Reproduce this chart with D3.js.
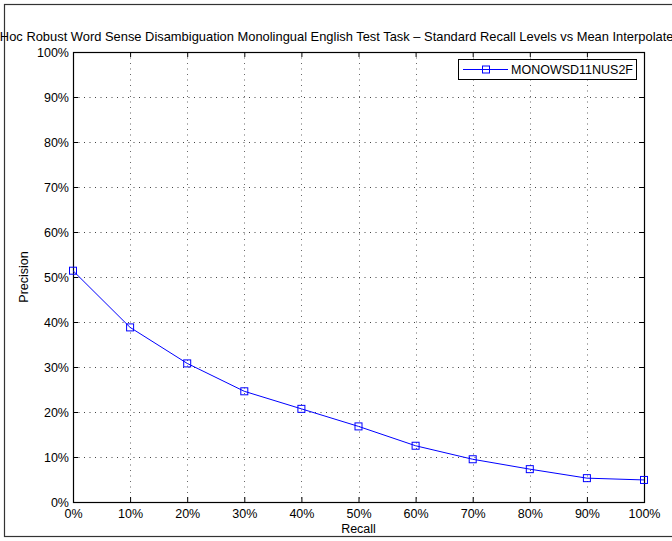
<!DOCTYPE html>
<html><head><meta charset="utf-8">
<script src="https://cdn.jsdelivr.net/npm/d3@7"></script>
<style>body{margin:0;background:#fff}svg{display:block}text{font-family:"Liberation Sans",Arial,sans-serif;fill:#000}</style>
</head><body>
<svg id="c" width="672" height="541"></svg>
<script>
const recall = [0,0.1,0.2,0.3,0.4,0.5,0.6,0.7,0.8,0.9,1.0];
const precision = [0.514,0.388,0.308,0.246,0.207,0.168,0.125,0.095,0.073,0.053,0.049];
const xTicks = [0,0.1,0.2,0.3,0.4,0.5,0.6,0.7,0.8,0.9,1.0];
const yTicks = [0,0.1,0.2,0.3,0.4,0.5,0.6,0.7,0.8,0.9,1.0];
const seriesName = "MONOWSD11NUS2F";
const title = "Ad-Hoc Robust Word Sense Disambiguation Monolingual English Test Task \u2013 Standard Recall Levels vs Mean Interpolated Precision";
const xLabel = "Recall", yLabel = "Precision";

const svg = d3.select("#c");
const L=73, R=644, T=52, B=502;
const x = d3.scaleLinear().domain([0,1]).range([L,R]);
const y = d3.scaleLinear().domain([0,1]).range([B,T]);
const fmt = d => Math.round(d*100)+"%";

// outer frame
svg.append("rect").attr("x",4.5).attr("y",4.5).attr("width",700).attr("height",532)
  .attr("fill","none").attr("stroke","#333").attr("stroke-width",1.2);

// grid
const g = svg.append("g");
g.selectAll(".vg").data(xTicks.slice(1,-1)).join("line")
  .attr("x1",d=>Math.round(x(d))+0.5).attr("x2",d=>Math.round(x(d))+0.5)
  .attr("y1",T).attr("y2",B).attr("stroke","#666").attr("stroke-dasharray","1,4.5");
g.selectAll(".hg").data(yTicks.slice(1,-1)).join("line")
  .attr("y1",d=>Math.round(y(d))+0.5).attr("y2",d=>Math.round(y(d))+0.5)
  .attr("x1",L).attr("x2",R).attr("stroke","#444").attr("stroke-dasharray","1,4.5");

// axes via d3 axis
const fs = "12.5px";
const xa = svg.append("g").attr("transform",`translate(0,${B})`)
  .call(d3.axisBottom(x).tickValues(xTicks).tickFormat(fmt).tickSizeInner(-5).tickSizeOuter(0).tickPadding(7));
xa.select(".domain").remove();
xa.selectAll("text").attr("font-size",fs).attr("font-family","Liberation Sans, Arial, sans-serif");
xa.selectAll("line").attr("stroke","#000");
const xt = svg.append("g").attr("transform",`translate(0,${T})`)
  .call(d3.axisTop(x).tickValues(xTicks).tickFormat("").tickSizeInner(-5).tickSizeOuter(0));
xt.select(".domain").remove();
const ya = svg.append("g").attr("transform",`translate(${L},0)`)
  .call(d3.axisLeft(y).tickValues(yTicks).tickFormat(fmt).tickSizeInner(-5).tickSizeOuter(0).tickPadding(4));
ya.select(".domain").remove();
ya.selectAll("text").attr("font-size",fs).attr("font-family","Liberation Sans, Arial, sans-serif");
const yr = svg.append("g").attr("transform",`translate(${R},0)`)
  .call(d3.axisRight(y).tickValues(yTicks).tickFormat("").tickSizeInner(-5).tickSizeOuter(0));
yr.select(".domain").remove();

svg.append("rect").attr("x",L+0.5).attr("y",T+0.5).attr("width",R-L).attr("height",B-T)
  .attr("fill","none").attr("stroke","#000").attr("stroke-width",1.2);

// labels
svg.append("text").attr("x",(L+R)/2).attr("y",41).attr("text-anchor","middle").attr("font-size","12.9px").text(title);
svg.append("text").attr("x",(L+R)/2).attr("y",533).attr("text-anchor","middle").attr("font-size",fs).text(xLabel);
svg.append("text").attr("transform","translate(28,277) rotate(-90)").attr("text-anchor","middle").attr("font-size",fs).text(yLabel);

// series
const pts = recall.map((r,i)=>[r,precision[i]]);
svg.append("path").datum(pts).attr("fill","none").attr("stroke","#0000ff").attr("stroke-width",1)
  .attr("d",d3.line().x(d=>x(d[0])).y(d=>y(d[1])));
svg.selectAll(".m").data(pts).join("rect")
  .attr("x",d=>x(d[0])-3.5).attr("y",d=>y(d[1])-3.5).attr("width",7).attr("height",7)
  .attr("fill","none").attr("stroke","#0000ff").attr("stroke-width",1);

// legend
const lg = svg.append("g");
lg.append("rect").attr("x",458.5).attr("y",59.5).attr("width",178).attr("height",20).attr("fill","#fff").attr("stroke","#000");
lg.append("line").attr("x1",463).attr("x2",508).attr("y1",69.5).attr("y2",69.5).attr("stroke","#0000ff");
lg.append("rect").attr("x",482.5).attr("y",66).attr("width",7).attr("height",7).attr("fill","none").attr("stroke","#0000ff");
lg.append("text").attr("x",511).attr("y",74).attr("font-size",fs).text(seriesName);
</script>
</body></html>
